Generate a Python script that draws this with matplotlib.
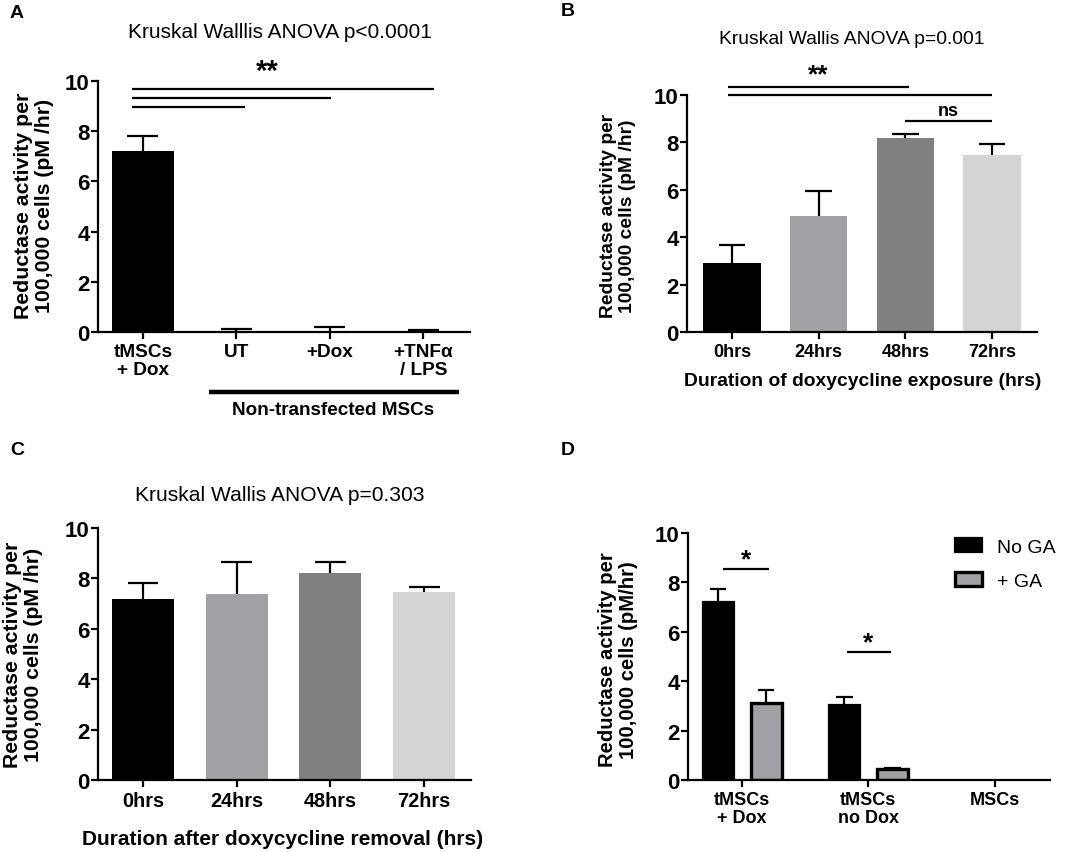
import matplotlib
matplotlib.use("Agg")
import matplotlib.pyplot as plt
import matplotlib.transforms as mtransforms
import numpy as np

plt.rcParams["font.family"] = ["Liberation Sans", "DejaVu Sans"]

W, H = 1065, 853

# ---- data ----
a_labels = ["tMSCs\n+ Dox", "UT", "+Dox", "+TNFα\n/ LPS"]
a_means = [7.2, 0.05, 0.02, 0.03]
a_err = [0.6, 0.07, 0.18, 0.05]

b_labels = ["0hrs", "24hrs", "48hrs", "72hrs"]
b_means = [2.9, 4.9, 8.2, 7.45]
b_err = [0.75, 1.05, 0.15, 0.5]

c_labels = ["0hrs", "24hrs", "48hrs", "72hrs"]
c_means = [7.2, 7.4, 8.2, 7.45]
c_err = [0.6, 1.25, 0.45, 0.2]

d_labels = ["tMSCs\n+ Dox", "tMSCs\nno Dox", "MSCs"]
d_nog_means = [7.2, 3.05, 0.0]
d_nog_err = [0.55, 0.3, 0.0]
d_ga_means = [3.1, 0.45, 0.0]
d_ga_err = [0.55, 0.05, 0.0]

four_colors = ["#000000", "#a0a0a5", "#808080", "#d4d4d4"]
ga_color = "#a0a0a5"
LW = 1.6


def box(left, right, top, bottom):
    return [left / W, 1 - bottom / H, (right - left) / W, (bottom - top) / H]


def style_axis(ax, labels, xlim, xsize, ysize=16):
    ax.set_ylim(0, 10)
    ax.set_xlim(*xlim)
    ax.set_yticks(np.arange(0, 11, 2))
    ax.set_xticks(range(len(labels)))
    ax.set_xticklabels(labels, fontweight="bold", fontsize=xsize, linespacing=1.1)
    for t in ax.get_yticklabels():
        t.set_fontweight("bold")
        t.set_fontsize(ysize)
    for s in ["top", "right"]:
        ax.spines[s].set_visible(False)
    for s in ["left", "bottom"]:
        ax.spines[s].set_linewidth(LW)
    ax.tick_params(width=LW, length=5, direction="out")
    ax.tick_params(axis="y", pad=1)
    ax.tick_params(axis="x", pad=3)


def sig(ax, x0, x1, y):
    ax.plot([x0, x1], [y, y], color="black", lw=LW, clip_on=False,
            solid_capstyle="butt")


def up_err(ax, x, means, err, cw):
    # upper-only error bars, drawn from the bar top upward
    x = np.asarray(x, dtype=float)
    top = np.asarray(means) + np.asarray(err)
    ax.vlines(x, means, top, color="black", lw=LW, zorder=1)
    ax.hlines(top, x - cw, x + cw, color="black", lw=LW, zorder=1)


def bars(ax, means, err, colors, cw):
    x = np.arange(len(means))
    ax.bar(x, means, width=0.66, color=colors, zorder=2)
    up_err(ax, x, means, err, cw)


def ylabel(text, cx, cy, size):
    fig.text(cx / W, 1 - cy / H, text, rotation=90, ha="center", va="center",
             fontweight="bold", fontsize=size, linespacing=1.1,
             multialignment="center")


def ftext(x, y, s, size, weight="normal"):
    fig.text(x / W, 1 - y / H, s, ha="center", va="center", fontsize=size,
             fontweight=weight)


fig = plt.figure(figsize=(W / 100, H / 100), dpi=100)

# ---- panel A ----
axA = fig.add_axes(box(98, 470, 82, 333))
bars(axA, a_means, a_err, "black", 0.165)
style_axis(axA, a_labels, (-0.48, 3.5), 13.7)
sig(axA, -0.12, 1.09, 8.96)
sig(axA, -0.12, 2.01, 9.32)
sig(axA, -0.12, 3.12, 9.68)
axA.text(1.33, 9.85, "**", ha="center", va="bottom", fontsize=21,
         fontweight="bold")
trA = mtransforms.blended_transform_factory(axA.transData, axA.transAxes)
axA.plot([0.71, 3.38], [-0.239, -0.239], color="black", lw=3.2,
         transform=trA, clip_on=False, solid_capstyle="butt")
axA.text(2.04, -0.31, "Non-transfected MSCs", transform=trA, ha="center",
         va="center", fontsize=13.6, fontweight="bold")
ylabel("Reductase activity per\n100,000 cells (pM /hr)", 34, 206, 15.3)
ftext(280, 33, "Kruskal Walllis ANOVA p<0.0001", 15)
ftext(17, 14, "A", 14, "bold")

# ---- panel B ----
axB = fig.add_axes(box(687, 1037, 96, 333))
bars(axB, b_means, b_err, four_colors, 0.155)
style_axis(axB, b_labels, (-0.52, 3.52), 13)
sig(axB, -0.05, 2.04, 10.32)
sig(axB, -0.05, 3.0, 10.01)
sig(axB, 2.0, 3.0, 8.89)
axB.text(1.0, 10.35, "**", ha="center", va="bottom", fontsize=19,
         fontweight="bold")
axB.text(2.5, 9.0, "ns", ha="center", va="bottom", fontsize=13,
         fontweight="bold")
ftext(863, 382, "Duration of doxycycline exposure (hrs)", 13.9, "bold")
ylabel("Reductase activity per\n100,000 cells (pM /hr)", 618, 216, 13.9)
ftext(852, 39, "Kruskal Wallis ANOVA p=0.001", 13.9)
ftext(568, 11, "B", 14, "bold")

# ---- panel C ----
axC = fig.add_axes(box(98, 471, 529, 781))
bars(axC, c_means, c_err, four_colors, 0.165)
style_axis(axC, c_labels, (-0.48, 3.5), 14.3)
ftext(283, 840, "Duration after doxycycline removal (hrs)", 15, "bold")
ylabel("Reductase activity per\n100,000 cells (pM /hr)", 23, 655, 15.3)
ftext(280, 496, "Kruskal Wallis ANOVA p=0.303", 15.1)
ftext(17, 451, "C", 14, "bold")

# ---- panel D ----
axD = fig.add_axes(box(688, 1050, 534, 781))
xd = np.arange(len(d_labels))
axD.bar(xd - 0.19, d_nog_means, width=0.245, color="black",
        edgecolor="black", linewidth=[LW if m > 0 else 0 for m in d_nog_means],
        label="No GA", zorder=2)
axD.bar(xd + 0.19, d_ga_means, width=0.245, color=ga_color,
        edgecolor="black", linewidth=[2.4 if m > 0 else 0 for m in d_ga_means],
        label="+ GA", zorder=2)
for off, m, e in [(-0.19, d_nog_means, d_nog_err), (0.19, d_ga_means, d_ga_err)]:
    keep = np.array(m) > 0
    up_err(axD, (xd + off)[keep], np.array(m)[keep], np.array(e)[keep], 0.065)
style_axis(axD, d_labels, (-0.43, 2.44), 13)
sig(axD, -0.15, 0.21, 8.55)
sig(axD, 0.83, 1.18, 5.18)
axD.text(0.03, 8.45, "*", ha="center", va="bottom", fontsize=19,
         fontweight="bold")
axD.text(1.0, 5.08, "*", ha="center", va="bottom", fontsize=19,
         fontweight="bold")
axD.legend(loc="upper left", bbox_to_anchor=(955 / W, 1 - 539 / H),
           bbox_transform=fig.transFigure, frameon=False, fontsize=14,
           handlelength=1.4, handleheight=0.7, handletextpad=0.75,
           labelspacing=0.85, borderpad=0, borderaxespad=0)
ylabel("Reductase activity per\n100,000 cells (pM/hr)", 618, 660, 14.6)
ftext(568, 451, "D", 14, "bold")

fig.savefig("out.png", dpi=100)
